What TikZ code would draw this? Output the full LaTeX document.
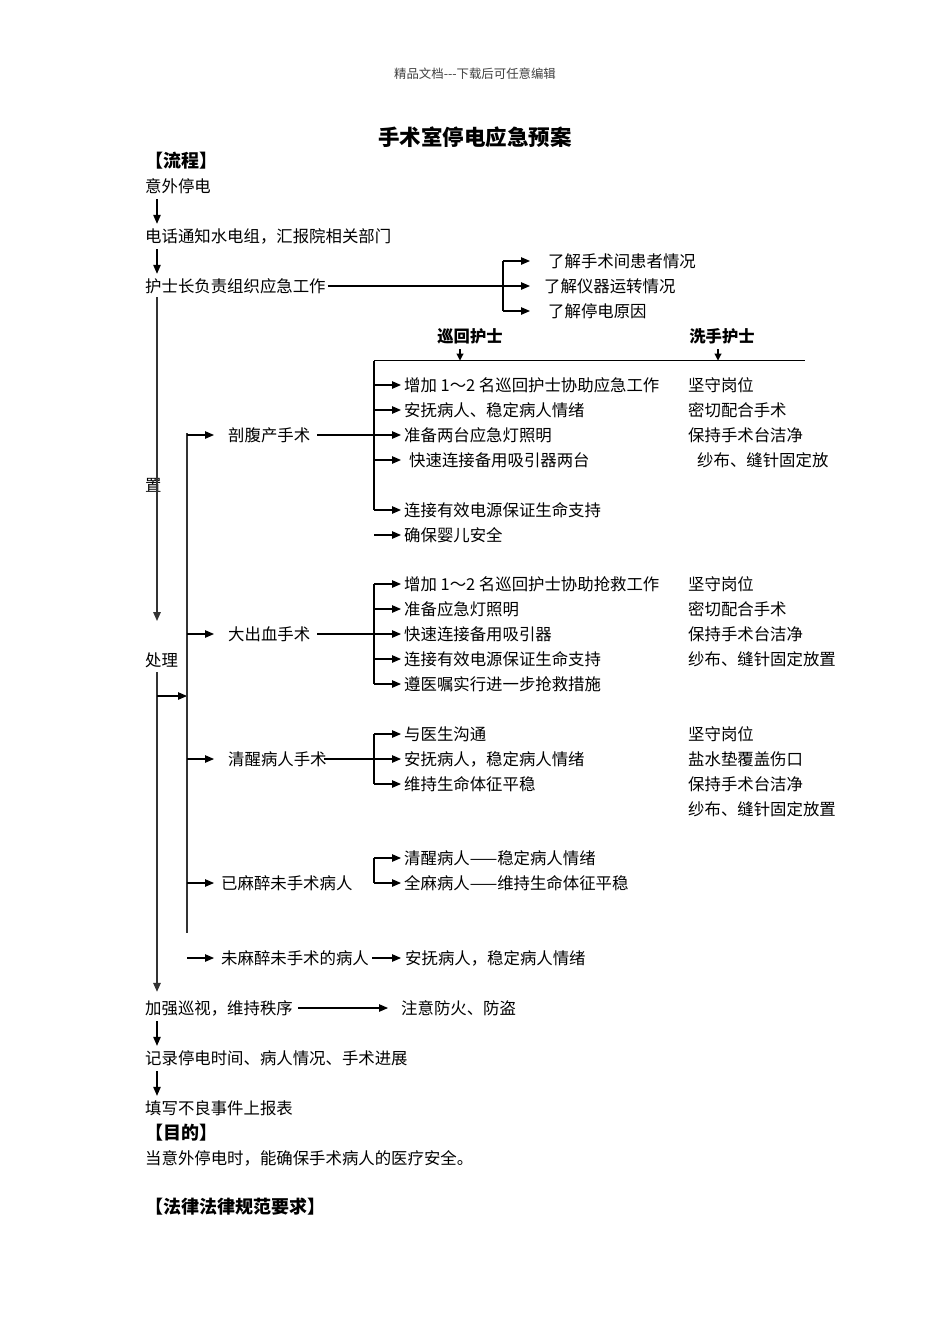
\documentclass[tikz,border=0pt]{standalone}
\usepackage{fontspec}
\setmainfont{Noto Sans CJK SC}
\usetikzlibrary{arrows.meta}
\begin{document}
\begin{tikzpicture}[x=1pt,y=-1pt,
 t/.style={anchor=west,inner sep=0pt,text height=13pt,text depth=1pt,font=\fontsize{16.4}{20}\selectfont},
 tbold/.style={t,font=\fontsize{18}{22}\selectfont\bfseries},
 hb/.style={anchor=center,inner sep=0pt,text height=13pt,text depth=1pt,font=\fontsize{16.3}{20}\selectfont\bfseries},
 hd/.style={anchor=center,inner sep=0pt,text=black!75,font=\fontsize{12.4}{14}\selectfont},
 ttl/.style={anchor=center,inner sep=0pt,font=\fontsize{21.5}{26}\selectfont\bfseries},
 ln/.style={line width=1.1pt},
 arr/.style={ln,-{Triangle[length=9pt,width=7.5pt]}},
 sarr/.style={ln,-{Triangle[length=7pt,width=7pt]}},
 ml/.style={line width=1.5pt,black!80}]
\useasboundingbox (0,0) rectangle (950,1344);
\fill[white] (0,0) rectangle (950,1344);

% reference x positions
\coordinate (vx) at (157,0);
\coordinate (sx) at (187,0);
\coordinate (bx) at (374,0);
\coordinate (tx) at (401,0);
\coordinate (brtip) at (214,0);
\coordinate (rbx) at (503,0);
\coordinate (rtx) at (530,0);

% header
\node[hd] (hdr) at (475,74) {精品文档-{}-{}-下载后可任意编辑};
\node[ttl] (ttl) at (475,137) {手术室停电应急预案};
\node[tbold] (lc) at (145,161) {【流程】};

% main column
\node[t] (n1) at (145,186) {意外停电};
\node[t] (n2) at (145,236) {电话通知水电组，汇报院相关部门};
\node[t] (n3) at (145,286) {护士长负责组织应急工作};
\node[t] (r1) at (548,261) {了解手术间患者情况};
\node[t] (r2) at (544,286) {了解仪器运转情况};
\node[t] (r3) at (548,311) {了解停电原因};
\node[t] (zhi) at (145,485) {置};
\node[t] (chl) at (145,660) {处理};

% nurse headers
\node[hb] (xh) at (470,336) {巡回护士};
\node[hb] (xs) at (722,336) {洗手护士};
\coordinate (htl) at (374,360.5);
\coordinate (htr) at (805,360.5);
\coordinate (xa1) at (460,349);
\coordinate (xa2) at (718,349);

% branches
\node[t] (s1) at (228,435) {剖腹产手术};
\node[t] (s2) at (228,634) {大出血手术};
\node[t] (s3) at (228,759) {清醒病人手术};
\node[t] (s4) at (221,883) {已麻醉未手术病人};
\node[t] (s5) at (221,958) {未麻醉未手术的病人};
\node[t] (s5a) at (405,958) {安抚病人，稳定病人情绪};

% caesarean
\node[t] (a1) at (404,385) {增加 1～2 名巡回护士协助应急工作};
\node[t] (a2) at (404,410) {安抚病人、稳定病人情绪};
\node[t] (a3) at (404,435) {准备两台应急灯照明};
\node[t] (a4) at (409,460) {快速连接备用吸引器两台};
\node[t] (a5) at (404,510) {连接有效电源保证生命支持};
\node[t] (a6) at (404,535) {确保婴儿安全};
\node[t] (w1) at (688,385) {坚守岗位};
\node[t] (w2) at (688,410) {密切配合手术};
\node[t] (w3) at (688,435) {保持手术台洁净};
\node[t] (w4) at (697,460) {纱布、缝针固定放};

% haemorrhage
\node[t] (b1) at (404,584) {增加 1～2 名巡回护士协助抢救工作};
\node[t] (b2) at (404,609) {准备应急灯照明};
\node[t] (b3) at (404,634) {快速连接备用吸引器};
\node[t] (b4) at (404,659) {连接有效电源保证生命支持};
\node[t] (b5) at (404,684) {遵医嘱实行进一步抢救措施};
\node[t] (x1) at (688,584) {坚守岗位};
\node[t] (x2) at (688,609) {密切配合手术};
\node[t] (x3) at (688,634) {保持手术台洁净};
\node[t] (x4) at (688,659) {纱布、缝针固定放置};

% conscious
\node[t] (c1) at (404,734) {与医生沟通};
\node[t] (c2) at (404,759) {安抚病人，稳定病人情绪};
\node[t] (c3) at (404,784) {维持生命体征平稳};
\node[t] (y1) at (688,734) {坚守岗位};
\node[t] (y2) at (688,759) {盐水垫覆盖伤口};
\node[t] (y3) at (688,784) {保持手术台洁净};
\node[t] (y4) at (688,809) {纱布、缝针固定放置};

% anaesthetised
\node[t] (d1) at (404,858) {清醒病人——稳定病人情绪};
\node[t] (d2) at (404,883) {全麻病人——维持生命体征平稳};

% bottom
\node[t] (k1) at (145,1008) {加强巡视，维持秩序};
\node[t] (k1a) at (401,1008) {注意防火、防盗};
\node[t] (k2) at (145,1058) {记录停电时间、病人情况、手术进展};
\node[t] (k3) at (145,1108) {填写不良事件上报表};
\node[tbold] (mu) at (145,1133) {【目的】};
\node[t] (mt) at (145,1158) {当意外停电时，能确保手术病人的医疗安全。};
\node[tbold] (fl) at (145,1207) {【法律法律规范要求】};

% ---- connectors ----
\draw[arr,shorten <=6pt,shorten >=5pt] (n1.south -| vx) -- (n2.north -| vx);
\draw[arr,shorten <=6pt,shorten >=5pt] (n2.south -| vx) -- (n3.north -| vx);
\coordinate (m1) at (157,621);
\draw[ml,-{Triangle[length=9pt,width=7.5pt]},shorten <=4pt] (n3.south -| vx) -- (m1);
\draw[ml,-{Triangle[length=9pt,width=7.5pt]},shorten <=5pt,shorten >=9pt] (chl.south -| vx) -- (k1.north -| vx);
\coordinate (p1) at (157,696);
\draw[arr] (p1) -- (p1 -| sx);
\coordinate (send) at (187,933);
\draw[ml] (s1.west -| sx) ++(0,-2) -- (send);

% 护士长 branches
\draw[arr] ([xshift=2pt]n3.east) -- (r2.west -| rtx);
\draw[ln] (r1.west -| rbx) -- (r3.west -| rbx);
\draw[arr] (r1.west -| rbx) -- (r1.west -| rtx);
\draw[arr] (r3.west -| rbx) -- (r3.west -| rtx);

% nurse header arrows and line
\draw[sarr] (xa1) -- (xa1 |- htl);
\draw[sarr] (xa2) -- (xa2 |- htl);
\draw[ln] (htl) -- (htr);

% branch arrows
\foreach \s in {s1,s2,s3,s4,s5}
  \draw[arr] (\s.west -| sx) -- (\s.west -| brtip);
\draw[arr] ([xshift=3pt]s5.east) -- (s5a.west -| tx);

% caesarean bracket
\draw[ln] (htl) -- (a5.west -| bx);
\foreach \n in {a1,a2,a3,a4,a5,a6}
  \draw[arr] (\n.west -| bx) -- (\n.west -| tx);
\draw[ln] ([xshift=7pt]s1.east) -- (s1.east -| bx);

% haemorrhage bracket
\draw[ln] (b1.west -| bx) -- (b5.west -| bx);
\foreach \n in {b1,b2,b3,b4,b5}
  \draw[arr] (\n.west -| bx) -- (\n.west -| tx);
\draw[ln] ([xshift=7pt]s2.east) -- (s2.east -| bx);

% conscious bracket
\draw[ln] (c1.west -| bx) -- (c3.west -| bx);
\foreach \n in {c1,c2,c3}
  \draw[arr] (\n.west -| bx) -- (\n.west -| tx);
\draw[ln] ([xshift=-3pt]s3.east) -- (s3.east -| bx);

% anaesthetised bracket
\draw[ln] (d1.west -| bx) -- (d2.west -| bx);
\foreach \n in {d1,d2}
  \draw[arr] (\n.west -| bx) -- (\n.west -| tx);

% bottom arrows
\draw[arr] ([xshift=5pt]k1.east) -- ([xshift=-13pt]k1a.west);
\draw[arr,shorten <=6pt,shorten >=5pt] (k1.south -| vx) -- (k2.north -| vx);
\draw[arr,shorten <=6pt,shorten >=5pt] (k2.south -| vx) -- (k3.north -| vx);
\end{tikzpicture}
\end{document}
